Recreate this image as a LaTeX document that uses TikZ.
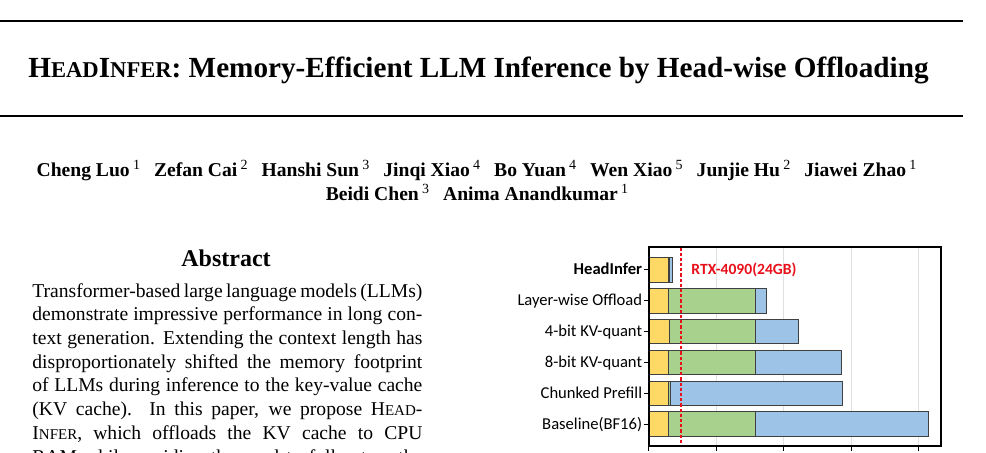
\documentclass[tikz,border=0pt]{standalone}
\usepackage{fontspec}
\setmainfont{Liberation Serif}
\newfontfamily\chartfont{Carlito}
\usepackage{tikz}

\definecolor{kvyellow}{HTML}{FFD966}
\definecolor{kvgreen}{HTML}{A9D18E}
\definecolor{kvblue}{HTML}{9DC3E6}
\definecolor{gpured}{HTML}{E8101A}

% fake small caps, as in the title and the abstract
\newcommand{\tsc}[1]{{\fontsize{11.3}{12}\selectfont #1}}
\newcommand{\bsc}[1]{{\fontsize{7.5}{9}\selectfont #1}}
\newcommand{\aff}[1]{\,{\mdseries\fontsize{7}{8}\selectfont\raisebox{3.6pt}{#1}}}
\newcommand{\agap}{\hspace{7pt}}

\tikzset{
  txt/.style={inner sep=0pt,anchor=base},
  seg/.style={draw=black!75,line width=0.35pt},
  gridline/.style={draw=black!12,line width=0.4pt},
  tick/.style={draw=black,line width=0.5pt},
  limit/.style={draw=gpured,line width=1.2pt,dash pattern=on 1.6pt off 1pt},
}

\begin{document}
\begin{tikzpicture}[x=0.5pt,y=-0.5pt]
        \useasboundingbox (0,0) rectangle (986,452);
        \def\axl{648.5}
        \def\axr{941}
        \def\axt{247.3}
        \def\axb{445.5}

        % title block
        \draw[line width=1pt] (0,21)--(963,21);
        \draw[line width=1.2pt] (0,116)--(963,116);
        \node[txt] (title) at (478.5,77) {\fontsize{14.6}{16}\selectfont\bfseries
          H\tsc{EAD}I\tsc{NFER}: Memory-Efficient LLM Inference by Head-wise Offloading};

        \node[txt] (auth1) at (476.5,176.7) {\fontsize{9.8}{12}\selectfont\bfseries
          Cheng Luo\aff{1}\agap Zefan Cai\aff{2}\agap Hanshi Sun\aff{3}\agap Jinqi Xiao\aff{4}\agap
          Bo Yuan\aff{4}\agap Wen Xiao\aff{5}\agap Junjie Hu\aff{2}\agap Jiawei Zhao\aff{1}};
        \node[txt] (auth2) at (477,200.3) {\fontsize{9.8}{12}\selectfont\bfseries
          Beidi Chen\aff{3}\agap Anima Anandkumar\aff{1}};

        % abstract column
        \node[txt] (abshead) at (226,266.7) {\fontsize{12}{14}\selectfont\bfseries Abstract};
        \foreach \ln [count=\k from 0] in {
            {Transformer-based large language models (LLMs)},
            {demonstrate impressive performance in long con-},
            {text generation. Extending the context length has},
            {disproportionately shifted the memory footprint},
            {of LLMs during inference to the key-value cache},
            {(KV cache).\ \ In this paper, we propose H\bsc{EAD}-},
            {I\bsc{NFER}, which offloads the KV cache to CPU},
            {RAM while avoiding the need to fully store the}}
          \node[inner sep=0pt,anchor=base west] (line\k) at (32,{297.3+23.67*\k})
            {\fontsize{9.8}{12}\selectfont\hbox to 195pt{\ln}};

        % memory chart
        \foreach \gx in {716,783.5,851,918.5}
          \draw[gridline] (\gx,\axt)--(\gx,\axb);
        \foreach \gx in {648.5,716,783.5,851,918.5}
          \draw[tick] (\gx,\axb)--(\gx,451);

        \foreach \ya/\yg/\yb/\lab [count=\i from 0] in {
            668.3/669.7/672.7/{\textbf{HeadInfer}},
            668.3/755.7/766/{Layer-wise Offload},
            669.3/755.7/798.3/{4-bit KV-quant},
            668.3/755.3/841.3/{8-bit KV-quant},
            668.3/670.7/842.5/{Chunked Prefill},
            668.3/755.3/928.3/{Baseline(BF16)}}{
          \pgfmathsetmacro{\top}{257.3+30.9*\i}
          \pgfmathsetmacro{\bot}{\top+24.7}
          \pgfmathsetmacro{\mid}{\top+12.35}
          \draw[seg,fill=kvyellow] (\axl,\top) rectangle (\ya,\bot);
          \draw[seg,fill=kvgreen] (\ya,\top) rectangle (\yg,\bot);
          \draw[seg,fill=kvblue] (\yg,\top) rectangle (\yb,\bot);
          \draw[tick] (643.5,\mid)--(\axl,\mid);
          \node[inner sep=0pt,anchor=base east] (lab\i) at (642.5,\mid+5.3)
            {\chartfont\fontsize{8.3}{9}\selectfont\lab};
        }

        \draw[limit] (681,\axt)--(681,\axb);
        \draw[line width=1pt] (\axl,\axt) rectangle (\axr,\axb);
        \node[inner sep=0pt,anchor=base west,text=gpured] (rtx) at (691,274.5)
          {\chartfont\fontsize{7.8}{8}\selectfont\bfseries RTX-4090(24GB)};
      \end{tikzpicture}
\end{document}
